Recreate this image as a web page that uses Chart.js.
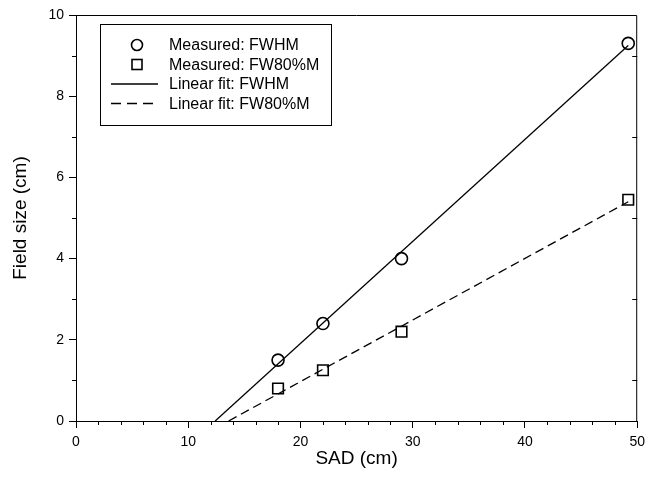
<!DOCTYPE html>
<html>
<head>
<meta charset="utf-8">
<script src="https://cdn.jsdelivr.net/npm/chart.js@4"></script>
<style>
  html, body { margin: 0; padding: 0; background: #fff; overflow: hidden; }
  #wrap { width: 651px; height: 489px; }
</style>
</head>
<body>
<div id="wrap"><canvas id="fitChart"></canvas></div>
<script>
// measured points (SAD in cm, field size in cm)
var sadMeasured = [18, 22, 29, 49.2];
var fwhmMeasured = [1.5, 2.4, 4.0, 9.3];
var fw80Measured = [0.8, 1.25, 2.2, 5.45];

// end points of the fitted lines
var fwhmFitX = [12.4, 49.2];
var fwhmFitY = [0, 9.25];
var fw80FitX = [13.6, 49.2];
var fw80FitY = [0, 5.4];

var xTicks = [0, 10, 20, 30, 40, 50];
var yTicks = [0, 2, 4, 6, 8, 10];
var xMinor = [2, 4, 6, 8, 12, 14, 16, 18, 22, 24, 26, 28, 32, 34, 36, 38, 42, 44, 46, 48];
var yMinor = [1, 3, 5, 7, 9];

var labels = ['Measured: FWHM', 'Measured: FW80%M', 'Linear fit: FWHM', 'Linear fit: FW80%M'];

function pts(xs, ys) {
    return xs.map(function (x, i) { return { x: x, y: ys[i] }; });
}

var FONT = "'Liberation Sans', Arial, sans-serif";

// frame, minor ticks and the boxed legend
var extras = {
    id: 'extras',
    afterDraw: function (chart) {
        var c = chart.ctx, a = chart.chartArea;
        var sx = chart.scales.x, sy = chart.scales.y;
        c.save();
        c.strokeStyle = '#000';
        c.lineWidth = 1;
        c.beginPath();
        c.moveTo(a.left, a.top + 0.5);
        c.lineTo(a.right - 0.5, a.top + 0.5);
        c.lineTo(a.right - 0.5, a.bottom);
        c.stroke();

        c.beginPath();
        xMinor.forEach(function (v) {
            var px = Math.round(sx.getPixelForValue(v)) + 0.5;
            c.moveTo(px, a.bottom); c.lineTo(px, a.bottom + 4);
        });
        yMinor.forEach(function (v) {
            var py = Math.round(sy.getPixelForValue(v)) + 0.5;
            c.moveTo(a.left, py); c.lineTo(a.left - 4, py);
            c.moveTo(a.right, py); c.lineTo(a.right - 5, py);
        });
        c.stroke();

        // legend box
        var bx = 100, by = 24, bw = 231, bh = 101;
        c.strokeRect(bx + 0.5, by + 0.5, bw, bh);
        c.font = '16px ' + FONT;
        c.fillStyle = '#000';
        c.textBaseline = 'middle';
        chart.data.datasets.forEach(function (ds, i) {
            var y = by + 21 + i * 19.5;
            var sxm = 137;
            c.lineWidth = 1.6;
            if (ds.showLine) {
                c.setLineDash(ds.borderDash ? [10, 6] : []);
                c.lineWidth = 1.3;
                c.beginPath();
                c.moveTo(111, y); c.lineTo(158, y);
                c.stroke();
                c.setLineDash([]);
            } else if (ds.pointStyle === 'circle') {
                c.beginPath();
                c.arc(sxm, y, 5.5, 0, Math.PI * 2);
                c.stroke();
            } else {
                c.strokeRect(sxm - 5, y - 5, 10, 10);
            }
            c.fillText(ds.label, 169, y + 1);
        });
        c.restore();
    }
};

new Chart(document.getElementById('fitChart'), {
    type: 'scatter',
    data: {
        datasets: [
            {
                label: labels[0],
                data: pts(sadMeasured, fwhmMeasured),
                pointStyle: 'circle',
                pointRadius: 6,
                borderColor: '#000',
                backgroundColor: 'rgba(0,0,0,0)',
                borderWidth: 1.6,
                showLine: false
            },
            {
                label: labels[1],
                data: pts(sadMeasured, fw80Measured),
                pointStyle: 'rect',
                pointRadius: 7.5,
                borderColor: '#000',
                backgroundColor: 'rgba(0,0,0,0)',
                borderWidth: 1.6,
                showLine: false
            },
            {
                label: labels[2],
                data: pts(fwhmFitX, fwhmFitY),
                showLine: true,
                pointRadius: 0,
                borderColor: '#000',
                borderWidth: 1.3
            },
            {
                label: labels[3],
                data: pts(fw80FitX, fw80FitY),
                showLine: true,
                pointRadius: 0,
                borderColor: '#000',
                borderWidth: 1.3,
                borderDash: [9, 5]
            }
        ]
    },
    options: {
        responsive: true,
        maintainAspectRatio: false,
        animation: false,
        layout: { autoPadding: false, padding: { left: 0, top: 15, right: 9, bottom: 0 } },
        plugins: {
            legend: { display: false },
            tooltip: { enabled: false }
        },
        scales: {
            x: {
                type: 'linear',
                min: 0,
                max: 50,
                afterBuildTicks: function (s) { s.ticks = xTicks.map(function (v) { return { value: v }; }); },
                afterFit: function (s) { s.height = 68; },
                ticks: { color: '#000', font: { family: FONT, size: 14 }, padding: 6, maxRotation: 0 },
                grid: { drawOnChartArea: false, tickLength: 7, color: '#000', lineWidth: 1 },
                border: { color: '#000', width: 1 },
                title: { display: true, text: 'SAD (cm)', color: '#000', font: { family: FONT, size: 19 }, padding: { top: 0, bottom: 19 } }
            },
            y: {
                type: 'linear',
                min: 0,
                max: 10,
                afterBuildTicks: function (s) { s.ticks = yTicks.map(function (v) { return { value: v }; }); },
                afterFit: function (s) { s.width = 76; },
                ticks: { color: '#000', font: { family: FONT, size: 14 }, padding: 5 },
                grid: { drawOnChartArea: false, tickLength: 7, color: '#000', lineWidth: 1 },
                border: { color: '#000', width: 1 },
                title: { display: true, text: 'Field size (cm)', color: '#000', font: { family: FONT, size: 19 }, padding: { top: 9, bottom: 0 } }
            }
        }
    },
    plugins: [extras]
});
</script>
</body>
</html>
